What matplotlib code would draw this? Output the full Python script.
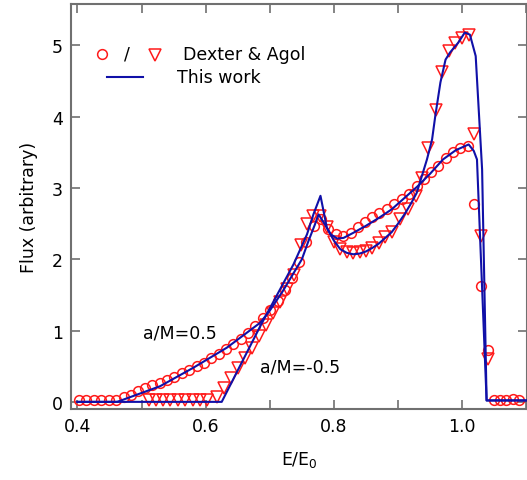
import matplotlib
matplotlib.use("Agg")
import matplotlib.pyplot as plt  # noqa: E402
from matplotlib.ticker import MultipleLocator  # noqa: E402

RED, BLUE, GREY = "#ff1a1a", "#1010a8", "#707070"

# Dexter & Agol, a/M = 0.5 (circles)
da_pos_x = [0.403, 0.414, 0.426, 0.437, 0.449, 0.460, 0.472, 0.483, 0.494, 0.506,
            0.517, 0.529, 0.540, 0.551, 0.563, 0.574, 0.586, 0.597, 0.609, 0.620,
            0.632, 0.643, 0.655, 0.666, 0.677, 0.689, 0.700, 0.712, 0.723, 0.734,
            0.746, 0.757, 0.769, 0.780, 0.791, 0.803, 0.814, 0.826, 0.837, 0.849,
            0.860, 0.871, 0.883, 0.894, 0.906, 0.917, 0.929, 0.940, 0.951, 0.963,
            0.974, 0.986, 0.997, 1.009, 1.019, 1.029, 1.040, 1.050, 1.059, 1.069,
            1.079, 1.089]
da_pos_y = [0.02, 0.02, 0.02, 0.02, 0.02, 0.03, 0.07, 0.10, 0.15, 0.20,
            0.24, 0.27, 0.31, 0.35, 0.40, 0.45, 0.50, 0.55, 0.61, 0.67,
            0.74, 0.81, 0.88, 0.97, 1.06, 1.17, 1.29, 1.42, 1.57, 1.74,
            1.96, 2.24, 2.47, 2.56, 2.42, 2.35, 2.32, 2.37, 2.45, 2.52,
            2.59, 2.65, 2.71, 2.78, 2.84, 2.92, 3.03, 3.13, 3.22, 3.31,
            3.42, 3.51, 3.56, 3.59, 2.78, 1.62, 0.73, 0.02, 0.02, 0.03,
            0.04, 0.03]

# Dexter & Agol, a/M = -0.5 (triangles)
da_neg_x = [0.511, 0.522, 0.534, 0.545, 0.557, 0.568, 0.580, 0.591, 0.602, 0.617,
            0.628, 0.639, 0.650, 0.661, 0.672, 0.683, 0.694, 0.705, 0.716, 0.727,
            0.737, 0.748, 0.758, 0.768, 0.779, 0.789, 0.800, 0.810, 0.820, 0.830,
            0.840, 0.850, 0.860, 0.870, 0.880, 0.890, 0.903, 0.916, 0.928, 0.937,
            0.947, 0.959, 0.969, 0.979, 0.989, 0.999, 1.010, 1.019, 1.029, 1.040]
da_neg_y = [0.03, 0.03, 0.03, 0.03, 0.03, 0.03, 0.03, 0.03, 0.03, 0.07,
            0.20, 0.33, 0.47, 0.61, 0.76, 0.92, 1.08, 1.24, 1.40, 1.58,
            1.78, 2.20, 2.50, 2.60, 2.61, 2.45, 2.24, 2.14, 2.10, 2.09,
            2.10, 2.12, 2.16, 2.23, 2.31, 2.38, 2.56, 2.70, 2.89, 3.14,
            3.56, 4.09, 4.62, 4.92, 5.03, 5.11, 5.15, 3.76, 2.32, 0.60]

# this work, a/M = 0.5
tw_pos_x = [0.400, 0.462, 0.529, 0.581, 0.633, 0.685, 0.700, 0.720, 0.740, 0.750,
            0.760, 0.770, 0.776, 0.785, 0.795, 0.805, 0.815, 0.830, 0.850, 0.870,
            0.890, 0.910, 0.930, 0.950, 0.970, 0.990, 1.010, 1.018, 1.023, 1.038,
            1.100]
tw_pos_y = [0.00, 0.00, 0.22, 0.48, 0.76, 1.11, 1.28, 1.55, 1.85, 2.00,
            2.25, 2.48, 2.63, 2.50, 2.35, 2.29, 2.30, 2.37, 2.47, 2.58,
            2.70, 2.86, 3.02, 3.20, 3.40, 3.53, 3.61, 3.52, 3.40, 0.02,
            0.02]

# this work, a/M = -0.5
tw_neg_x = [0.400, 0.625, 0.685, 0.737, 0.758, 0.768, 0.779, 0.789, 0.800, 0.810,
            0.820, 0.830, 0.840, 0.850, 0.860, 0.870, 0.880, 0.890, 0.900, 0.910,
            0.920, 0.929, 0.945, 0.953, 0.958, 0.966, 0.974, 0.981, 0.994, 1.004,
            1.012, 1.021, 1.031, 1.038, 1.100]
tw_neg_y = [0.00, 0.00, 1.06, 1.93, 2.35, 2.63, 2.89, 2.44, 2.26, 2.14,
            2.09, 2.07, 2.08, 2.11, 2.16, 2.22, 2.30, 2.38, 2.50, 2.63,
            2.78, 2.93, 3.40, 3.68, 4.01, 4.48, 4.80, 4.90, 5.04, 5.18,
            5.15, 4.85, 3.26, 0.02, 0.02]

plt.rcParams["font.family"] = ["DejaVu Sans"]

fig = plt.figure(figsize=(5.27, 4.81), dpi=100)
ax = fig.add_axes([71 / 527, 1 - 410 / 481, 456 / 527, 405 / 481])

ax.plot(tw_pos_x, tw_pos_y, color=BLUE, lw=1.5, zorder=3)
ax.plot(tw_neg_x, tw_neg_y, color=BLUE, lw=1.5, zorder=3)
ax.plot(da_pos_x, da_pos_y, "o", ms=7, mfc="none", mec=RED, mew=1.1, zorder=2)
ax.plot(da_neg_x, da_neg_y, "v", ms=8, mfc="none", mec=RED, mew=1.1, zorder=2)

ax.set_xlim(0.39, 1.101)
ax.set_ylim(-0.1, 5.58)
ax.set_xticks([0.4, 0.6, 0.8, 1.0])
ax.set_xticklabels(["0.4", "0.6", "0.8", "1.0"])
ax.xaxis.set_minor_locator(MultipleLocator(0.1))
ax.set_yticks([0, 1, 2, 3, 4, 5])
ax.tick_params(which="both", direction="in", top=True, right=True, length=6.5,
               width=1.2, color=GREY, labelsize=12.5, pad=6)
for s in ax.spines.values():
    s.set_color(GREY); s.set_linewidth(1.5)

ax.set_xlabel("E/E$_0$", fontsize=12.5, labelpad=10)
ax.set_ylabel("Flux (arbitrary)", fontsize=12.5, labelpad=10)

# hand-made legend, as in the original
ax.plot([0.068], [0.877], "o", ms=7, mfc="none", mec=RED, mew=1.1, transform=ax.transAxes)
ax.text(0.123, 0.877, "/", fontsize=12.5, ha="center", va="center", transform=ax.transAxes)
ax.plot([0.184], [0.873], "v", ms=8, mfc="none", mec=RED, mew=1.1, transform=ax.transAxes)
ax.text(0.246, 0.877, "Dexter & Agol", fontsize=12.5, va="center", transform=ax.transAxes)
ax.plot([0.079, 0.158], [0.820, 0.820], color=BLUE, lw=1.5, transform=ax.transAxes)
ax.text(0.232, 0.820, "This work", fontsize=12.5, va="center", transform=ax.transAxes)

ax.text(0.503, 0.975, "a/M=0.5", fontsize=12.5, va="center")
ax.text(0.685, 0.50, "a/M=-0.5", fontsize=12.5, va="center")

fig.savefig("out.png", dpi=100)
